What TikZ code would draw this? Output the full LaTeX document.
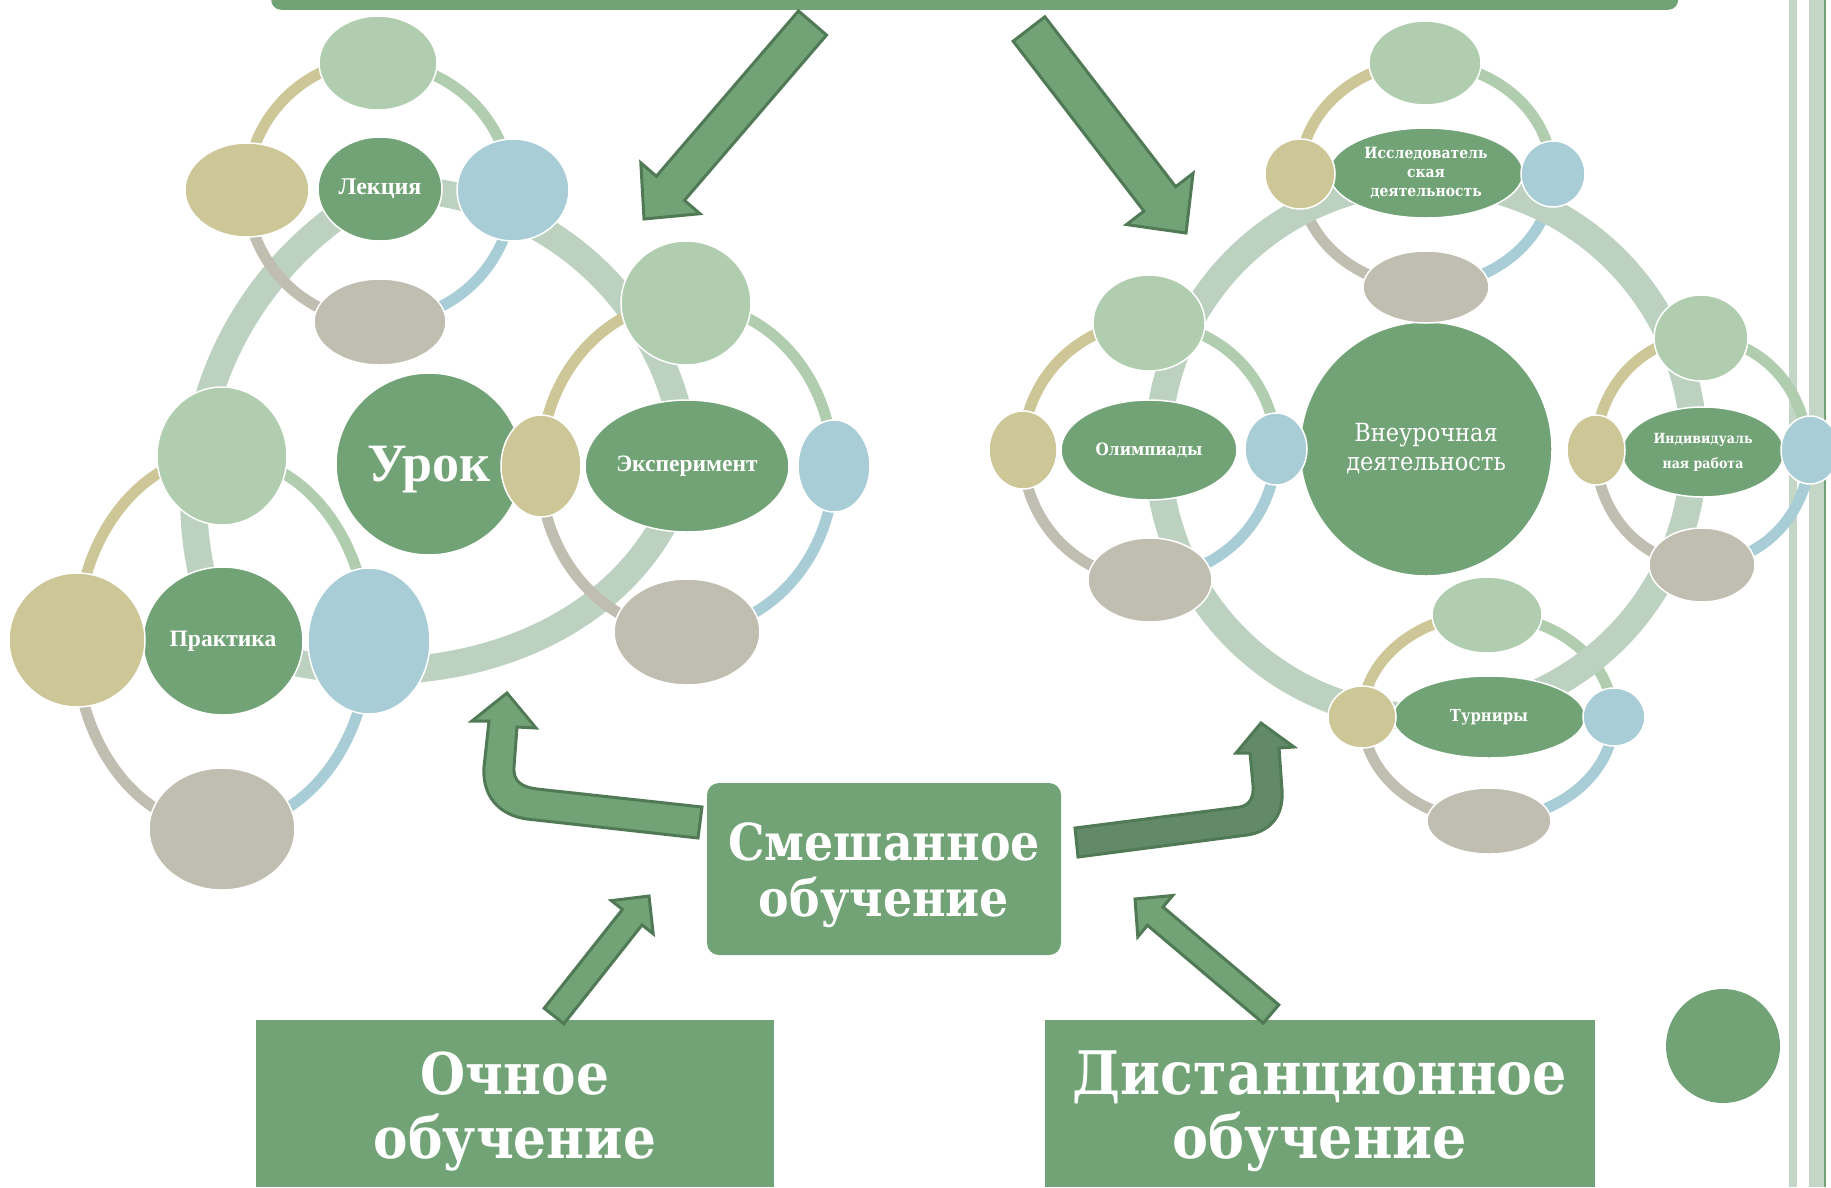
\documentclass[tikz,border=0pt]{standalone}
\usepackage{fontspec}
\setmainfont{DejaVu Serif}
\newfontfamily\cent{DejaVu Serif}[FakeStretch=0.9]
\newfontfamily\tms{Liberation Serif}
\usetikzlibrary{calc,shapes.geometric}
\definecolor{gmain}{HTML}{72A376}
\definecolor{glight}{HTML}{B0CDB0}
\definecolor{gtan}{HTML}{CDC697}
\definecolor{gblue}{HTML}{A9CDD6}
\definecolor{ggray}{HTML}{BFBEB0}
\definecolor{gring}{HTML}{BDD1C1}
\definecolor{gstripe}{HTML}{C4D6C6}
\definecolor{aline}{HTML}{507A56}
\definecolor{adark}{HTML}{628968}
\pgfdeclarelayer{lw}\pgfdeclarelayer{lz}\pgfdeclarelayer{la}\pgfdeclarelayer{lb}
\pgfsetlayers{lw,lz,la,lb,main}
% ring arcs of a cluster: #1 prefix, #2 x radius, #3 y radius
\newcommand\ringarcs[3]{%
  \draw[smallring, draw=glight] (#1t.center) arc[start angle=90, end angle=0, x radius=#2pt, y radius=#3pt];
  \draw[smallring, draw=gblue] (#1r.center) arc[start angle=0, end angle=-90, x radius=#2pt, y radius=#3pt];
  \draw[smallring, draw=ggray] (#1b.center) arc[start angle=-90, end angle=-180, x radius=#2pt, y radius=#3pt];
  \draw[smallring, draw=gtan] (#1l.center) arc[start angle=180, end angle=90, x radius=#2pt, y radius=#3pt];
}
% block arrow: #1 tail, #2 tip, #3 half shaft, #4 half head, #5 head length, #6 fill
\newcommand\blockarrow[6]{%
  \path ($(#2)!#5!(#1)$) coordinate (bah);
  \filldraw[blk, fill=#6] ($(#1)!#3!90:(#2)$) -- ($(bah)!#3!90:(#2)$) -- ($(bah)!#4!90:(#2)$) -- (#2)
    -- ($(bah)!#4!-90:(#2)$) -- ($(bah)!#3!-90:(#2)$) -- ($(#1)!#3!-90:(#2)$) -- cycle;
}
\begin{document}
\begin{tikzpicture}[x=1pt,y=-1pt,
  bub/.style={ellipse, draw=white, line width=1.5pt, inner sep=0pt, text=white, align=center},
  smallring/.style={line width=11pt},
  bigring/.style={line width=27pt, draw=gring, line join=round},
  blk/.style={draw=aline, line width=3pt, line join=miter},
  box/.style={rectangle, fill=gmain, inner sep=0pt},
  boxtext/.style={text=white, align=center, inner sep=0pt}]
\useasboundingbox (0,0) rectangle (1831,1187);
\begin{pgfonlayer}{lw}
\fill[white] (0,0) rectangle (1831,1187);
\end{pgfonlayer}
% stripes
\begin{pgfonlayer}{lz}
\fill[gstripe] (1789,0) rectangle (1797,1187);
\fill[gstripe] (1809,0) rectangle (1824,1187);
\fill[gmain] (1824,0) rectangle (1826,1187);
\end{pgfonlayer}

% top bar
\node[fill=gmain, rounded corners=10pt, minimum width=1407pt, minimum height=60pt, inner sep=0pt, anchor=south west] (bar) at (271,10) {};

% ===== left: Урок =====
\node[bub, fill=gmain, minimum width=186pt, minimum height=182pt, text depth=0pt, font=\tms\bfseries\fontsize{54}{54}\selectfont] (Ur) at (429,464) {Урок};
% Лекция
\node[bub, fill=gmain, minimum width=124pt, minimum height=104pt, font=\tms\bfseries\fontsize{24}{24}\selectfont] (Lk) at (380,189) {Лекция};
\node[bub, fill=glight, minimum width=118pt, minimum height=94pt] (Lkt) at (378,63) {};
\node[bub, fill=gtan, minimum width=124pt, minimum height=94pt] (Lkl) at (247,190) {};
\node[bub, fill=gblue, minimum width=112pt, minimum height=102pt] (Lkr) at (513,190) {};
\node[bub, fill=ggray, minimum width=132pt, minimum height=86pt] (Lkb) at (380,322) {};
% Эксперимент
\node[bub, fill=gmain, minimum width=204pt, minimum height=132pt, font=\tms\bfseries\fontsize{23.5}{24}\selectfont] (Ex) at (687,466) {Эксперимент};
\node[bub, fill=glight, minimum width=130pt, minimum height=124pt] (Ext) at (686,303) {};
\node[bub, fill=gtan, minimum width=80pt, minimum height=102pt] (Exl) at (541,466) {};
\node[bub, fill=gblue, minimum width=72pt, minimum height=92pt] (Exr) at (834,466) {};
\node[bub, fill=ggray, minimum width=146pt, minimum height=106pt] (Exb) at (687,632) {};
% Практика
\node[bub, fill=gmain, minimum width=160pt, minimum height=148pt, font=\tms\bfseries\fontsize{23.5}{24}\selectfont] (Pr) at (223,641) {Практика};
\node[bub, fill=glight, minimum width=130pt, minimum height=138pt] (Prt) at (222,456) {};
\node[bub, fill=gtan, minimum width=136pt, minimum height=134pt] (Prl) at (77,640) {};
\node[bub, fill=gblue, minimum width=122pt, minimum height=146pt] (Prr) at (369,641) {};
\node[bub, fill=ggray, minimum width=146pt, minimum height=122pt] (Prb) at (222,829) {};

\begin{pgfonlayer}{la}
\draw[bigring] (Lk.center) to[bend left=44] (Ex.center) to[out=255, in=-22] (Pr.center) to[bend left=42] (Lk.center);
\end{pgfonlayer}
\begin{pgfonlayer}{lb}
\ringarcs{Lk}{133}{131}
\ringarcs{Ex}{147}{165}
\ringarcs{Pr}{146}{186}
\end{pgfonlayer}

% ===== right: Внеурочная деятельность =====
\node[bub, fill=gmain, minimum width=252pt, minimum height=254pt, font=\cent\fontsize{25}{29}\selectfont] (Vn) at (1426,449) {Внеурочная\\деятельность};
% Исследовательская
\node[bub, fill=gmain, minimum width=194pt, minimum height=90pt, font=\cent\bfseries\fontsize{15.5}{19}\selectfont] (Is) at (1426,173) {Исследователь\\ская\\деятельность};
\node[bub, fill=glight, minimum width=112pt, minimum height=84pt] (Ist) at (1425,63) {};
\node[bub, fill=gtan, minimum width=70pt, minimum height=70pt] (Isl) at (1300,174) {};
\node[bub, fill=gblue, minimum width=64pt, minimum height=66pt] (Isr) at (1553,174) {};
\node[bub, fill=ggray, minimum width=126pt, minimum height=72pt] (Isb) at (1426,287) {};
% Олимпиады
\node[bub, fill=gmain, minimum width=176pt, minimum height=100pt, font=\cent\bfseries\fontsize{17}{20}\selectfont] (Ol) at (1149,450) {Олимпиады};
\node[bub, fill=glight, minimum width=112pt, minimum height=96pt] (Olt) at (1149,323) {};
\node[bub, fill=gtan, minimum width=68pt, minimum height=78pt] (Oll) at (1023,450) {};
\node[bub, fill=gblue, minimum width=62pt, minimum height=72pt] (Olr) at (1276,449) {};
\node[bub, fill=ggray, minimum width=124pt, minimum height=84pt] (Olb) at (1150,580) {};
% Индивидуальная работа
\node[bub, fill=gmain, minimum width=162pt, minimum height=90pt, font=\cent\bfseries\fontsize{14}{25}\selectfont] (In) at (1703,452) {Индивидуаль\\ная работа};
\node[bub, fill=glight, minimum width=94pt, minimum height=86pt] (Int) at (1701,338) {};
\node[bub, fill=gtan, minimum width=58pt, minimum height=70pt] (Inl) at (1596,450) {};
\node[bub, fill=gblue, minimum width=58pt, minimum height=68pt] (Inr) at (1810,450) {};
\node[bub, fill=ggray, minimum width=106pt, minimum height=74pt] (Inb) at (1702,565) {};
% Турниры
\node[bub, fill=gmain, minimum width=192pt, minimum height=82pt, font=\cent\bfseries\fontsize{16.5}{20}\selectfont] (Tu) at (1489,717) {Турниры};
\node[bub, fill=glight, minimum width=110pt, minimum height=76pt] (Tut) at (1487,615) {};
\node[bub, fill=gtan, minimum width=68pt, minimum height=62pt] (Tul) at (1362,717) {};
\node[bub, fill=gblue, minimum width=62pt, minimum height=58pt] (Tur) at (1614,717) {};
\node[bub, fill=ggray, minimum width=124pt, minimum height=66pt] (Tub) at (1489,821) {};

\begin{pgfonlayer}{la}
\ringarcs{Is}{127}{112}
\ringarcs{Ol}{127}{128}
\ringarcs{In}{106}{113}
\ringarcs{Tu}{126}{103}
\end{pgfonlayer}
\begin{pgfonlayer}{lb}
\draw[bigring] (Vn.center) circle[radius=268pt];
\end{pgfonlayer}

% ===== bottom =====
\node[box, rounded corners=12pt, minimum width=354pt, minimum height=172pt] (mix) at (884,869) {};
\node[boxtext, font=\cent\bfseries\fontsize{51}{56}\selectfont] (mixt) at ($(mix.center)+(0,6)$) {Смешанное\\обучение};
\node[box, minimum width=518pt, minimum height=167pt] (och) at (515,1103.5) {};
\node[boxtext, font=\cent\bfseries\fontsize{57.5}{64}\selectfont] (ocht) at ($(och.center)+(0,8)$) {Очное\\обучение};
\node[box, minimum width=550pt, minimum height=167pt] (dis) at (1320,1103.5) {};
\node[boxtext, font=\cent\bfseries\fontsize{60}{64}\selectfont] (dist) at ($(dis.center)+(0,8)$) {Дистанционное\\обучение};
\node[circle, fill=gmain, minimum size=114pt, inner sep=0pt] (dot) at (1723,1046) {};

% straight block arrows
\coordinate (tA) at (812.5,23); \coordinate (hA) at (644,219);
\blockarrow{tA}{hA}{18.5pt}{39pt}{40.5pt}{gmain}
\coordinate (tB) at (1029,29); \coordinate (hB) at (1186,233);
\blockarrow{tB}{hB}{20pt}{42pt}{43pt}{gmain}
\coordinate (tC) at (554,1016); \coordinate (hC) at (649,896);
\blockarrow{tC}{hC}{12.5pt}{26.7pt}{27pt}{gmain}
\coordinate (tD) at (1271,1014); \coordinate (hD) at (1135,899);
\blockarrow{tD}{hD}{12pt}{27pt}{26.5pt}{gmain}

% bent arrows from the mixed-learning box
\coordinate (hL) at (507,693);
\filldraw[blk, fill=gmain] (hL) -- (536,728) -- (517,727) -- (514,767)
  .. controls (513,782) and (522,787) .. (537,789) -- (702,807) -- (698,838) -- (527,819)
  .. controls (498,815) and (482,795) .. (484,767) -- (489,721) -- (472,721) -- cycle;
\coordinate (hR) at (1261,723);
\filldraw[blk, fill=adark] (hR) -- (1294,747) -- (1279,748) -- (1282,790)
  .. controls (1284,818) and (1268,832) .. (1247,835) -- (1078,857) -- (1075,828) -- (1240,807)
  .. controls (1250,805) and (1254,797) .. (1253,785) -- (1250,753) -- (1236,753) -- cycle;
\end{tikzpicture}
\end{document}
